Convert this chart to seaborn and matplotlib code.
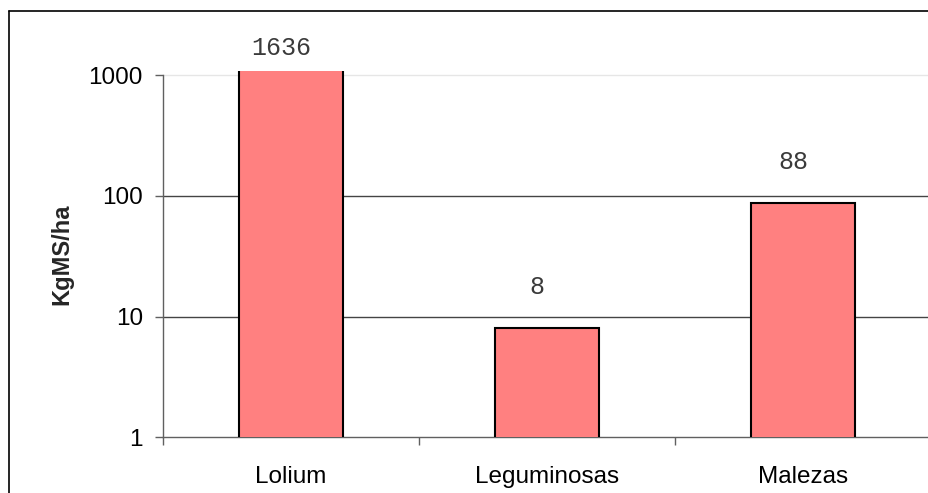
import matplotlib
matplotlib.use("Agg")
import matplotlib.pyplot as plt
from matplotlib.lines import Line2D
from matplotlib.ticker import FixedLocator, FixedFormatter, NullLocator
import seaborn as sns

# Dry matter per component (kg MS/ha)
categories = ["Lolium", "Leguminosas", "Malezas"]
values = [1636, 8, 88]
label_texts = ["1636", "8", "88"]
y_ticks = [1, 10, 100, 1000]
y_tick_labels = ["1", "10", "100", "1000"]

sns.set_style("white")
plt.rcParams["font.family"] = ["Liberation Sans", "DejaVu Sans"]

W, H = 929, 493
fig = plt.figure(figsize=(W / 100, H / 100), dpi=100)

# plot area in pixel terms
left_px, right_px, top_px, bottom_px = 163, 931, 71, 437
ax = fig.add_axes([left_px / W, 1 - bottom_px / H,
                   (right_px - left_px) / W, (bottom_px - top_px) / H])

sns.barplot(x=categories, y=values, color="#FF8080", edgecolor="black",
            linewidth=1.5, width=0.406, saturation=1, ax=ax, zorder=3)

ax.set_yscale("log")
decade_px = 120.5
ymax = 10 ** ((bottom_px - top_px) / decade_px)
ax.set_ylim(1, ymax)
ax.set_xlim(-0.5, len(categories) - 0.5)

# horizontal grid lines
for t in y_ticks[1:]:
    col = "#e6e6e6" if t == 1000 else "#444444"
    ax.axhline(t, color=col, lw=1.0, zorder=1)

# y axis
ax.yaxis.set_major_locator(FixedLocator(y_ticks))
ax.yaxis.set_major_formatter(FixedFormatter(y_tick_labels))
ax.yaxis.set_minor_locator(NullLocator())
ax.tick_params(axis="y", which="major", left=True, length=6, width=1,
               color="#606060", pad=8.5, labelsize=17.5, labelcolor="black")

# x axis: tick marks at category boundaries, labels at centres
bounds = [i - 0.5 for i in range(len(categories) + 1)]
centres = list(range(len(categories)))
ax.xaxis.set_major_locator(FixedLocator(bounds))
ax.xaxis.set_major_formatter(FixedFormatter([""] * len(bounds)))
ax.xaxis.set_minor_locator(FixedLocator(centres))
ax.xaxis.set_minor_formatter(FixedFormatter(categories))
ax.tick_params(axis="x", which="major", bottom=True, length=6, width=1,
               color="#606060")
ax.tick_params(axis="x", which="minor", bottom=True, length=0, pad=21,
               labelsize=17.5, labelcolor="black")

for s in ["top", "right"]:
    ax.spines[s].set_visible(False)
ax.spines["left"].set_bounds(1, 1000)
for s in ["left", "bottom"]:
    ax.spines[s].set_color("#606060")
    ax.spines[s].set_linewidth(1)

ax.set_xlabel("")
ax.set_ylabel("KgMS/ha", fontsize=17, fontweight="bold", va="center")
ax.yaxis.set_label_coords((62 - left_px) / (right_px - left_px), 0.5)

# value labels above each bar
for i, (v, txt) in enumerate(zip(values, label_texts)):
    clipped = v > ymax
    y = min(v, ymax)
    rise = 23 if clipped else 41
    ax.annotate(txt, xy=(i, y), xytext=(-10, rise), textcoords="offset pixels",
                ha="center", va="center", fontsize=18,
                family=["Liberation Mono", "DejaVu Sans Mono"],
                color="#3a3a3a", annotation_clip=False)

# chart border
fig.add_artist(Line2D([9 / W, 1.0], [1 - 11 / H, 1 - 11 / H],
                      transform=fig.transFigure, color="black", lw=1.2))
fig.add_artist(Line2D([9 / W, 9 / W], [1 - 11 / H, 0.0],
                      transform=fig.transFigure, color="black", lw=1.2))

fig.savefig("out.png", dpi=100)
